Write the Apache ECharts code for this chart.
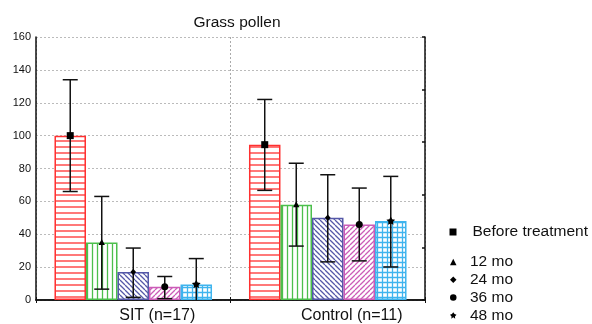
<!DOCTYPE html>
<html><head><meta charset="utf-8">
<script src="https://cdn.jsdelivr.net/npm/echarts@6/dist/echarts.min.js"></script>
<style>html,body{margin:0;padding:0;background:#fff}#c{width:592px;height:324px}</style>
</head><body><div id="c"></div>
<script>
const categories = ['SIT (n=17)', 'Control (n=11)'];
const seriesNames = ['Before treatment', '12 mo', '24 mo', '36 mo', '48 mo'];
// means per series: [SIT, Control]
const meanBefore = [100, 94.5];
const mean12 = [35, 58];
const mean24 = [17, 50];
const mean36 = [8, 46];
const mean48 = [9.5, 48];
// error bar lows/highs
const lowBefore = [66, 66.7], highBefore = [134, 122];
const low12 = [6.6, 32.8], high12 = [63, 83.2];
const low24 = [1.6, 23.2], high24 = [31.6, 76.2];
const low36 = [0.8, 23.8], high36 = [14.3, 68.1];
const low48 = [-6, 20.1], high48 = [25.2, 75.2];
const yTicks = {min: 0, max: 160, interval: 20};

const means = [meanBefore, mean12, mean24, mean36, mean48];
const lows = [lowBefore, low12, low24, low36, low48];
const highs = [highBefore, high12, high24, high36, high48];

const colors = ['#ff3030', '#4cbf4c', '#5558a8', '#cc5cb8', '#3fb4ee'];
const patterns = ['h', 'v', 'bd', 'fd', 'grid'];
const sizes = [6, 5, 5, 5, 5];

function makePattern(type, color, s) {
  const c = document.createElement('canvas');
  c.width = s; c.height = s;
  const g = c.getContext('2d');
  g.fillStyle = '#fff'; g.fillRect(0, 0, s, s);
  g.strokeStyle = color; g.lineWidth = 1.3;
  g.beginPath();
  if (type === 'h' || type === 'grid') { g.moveTo(0, s / 2); g.lineTo(s, s / 2); }
  if (type === 'v' || type === 'grid') { g.moveTo(s / 2, 0); g.lineTo(s / 2, s); }
  if (type === 'bd') { for (const k of [-s, 0, s]) { g.moveTo(k, 0); g.lineTo(k + s, s); } }
  if (type === 'fd') { for (const k of [-s, 0, s]) { g.moveTo(k, s); g.lineTo(k + s, 0); } }
  g.stroke();
  return c;
}

const catGap = 0.19;
const starPath = 'path://M0,-5 L2,-2 L5,-1 L2.6,1.6 L3,5 L0,3 L-3,5 L-2.6,1.6 L-5,-1 L-2,-2 Z';

function markerShape(k, x, y) {
  const st = {fill: '#000'};
  if (k === 0) return {type: 'rect', shape: {x: x - 3.5, y: y - 3.5, width: 7, height: 7}, style: st};
  if (k === 1) return {type: 'polygon', shape: {points: [[x, y - 3.5], [x + 3.2, y + 2.5], [x - 3.2, y + 2.5]]}, style: st};
  if (k === 2) return {type: 'polygon', shape: {points: [[x, y - 3.2], [x + 2.8, y], [x, y + 3.2], [x - 2.8, y]]}, style: st};
  if (k === 3) return {type: 'circle', shape: {cx: x, cy: y, r: 3.5}, style: st};
  const pts = [];
  for (let i = 0; i < 10; i++) {
    const a = -Math.PI / 2 + i * Math.PI / 5;
    const r = i % 2 === 0 ? 4.6 : 2.4;
    pts.push([x + r * Math.cos(a), y + r * Math.sin(a)]);
  }
  return {type: 'polygon', shape: {points: pts}, style: st};
}

const series = [];
seriesNames.forEach((name, k) => {
  series.push({
    type: 'bar', name: name + ' bar', barGap: '0%', barCategoryGap: (catGap * 100) + '%',
    data: means[k],
    itemStyle: {color: {image: makePattern(patterns[k], colors[k], sizes[k]), repeat: 'repeat'},
      borderColor: colors[k], borderWidth: 1.5},
    emphasis: {disabled: true}, silent: true, z: 2
  });
});
seriesNames.forEach((name, k) => {
  series.push({
    type: 'custom', name: name, clip: true, z: 5, silent: true,
    itemStyle: {color: '#000'},
    data: categories.map((c, i) => [i, means[k][i], lows[k][i], highs[k][i]]),
    renderItem: function (params, api) {
      const cat = api.value(0);
      const band = api.size([1, 0])[0];
      const bw = band * (1 - catGap) / 5;
      const pm = api.coord([cat, api.value(1)]);
      const x = pm[0] + (k - 2) * bw;
      const yl = api.coord([cat, api.value(2)])[1];
      const yh = api.coord([cat, api.value(3)])[1];
      const cw = 7.5;
      const ls = {stroke: '#111', lineWidth: 1.5};
      return {type: 'group', children: [
        {type: 'line', shape: {x1: x, y1: yl, x2: x, y2: yh}, style: ls},
        {type: 'line', shape: {x1: x - cw, y1: yh, x2: x + cw, y2: yh}, style: ls},
        {type: 'line', shape: {x1: x - cw, y1: yl, x2: x + cw, y2: yl}, style: ls},
        markerShape(k, x, pm[1])
      ]};
    }
  });
});

const chart = echarts.init(document.getElementById('c'), null, {renderer: 'canvas'});
const font = 'Liberation Sans, Arial, sans-serif';
chart.setOption({
  animation: false,
  color: ['#000'],
  textStyle: {fontFamily: font},
  title: {text: 'Grass pollen', left: 232, textAlign: 'center', top: 10,
    textStyle: {fontSize: 15.5, fontWeight: 'normal', color: '#111', fontFamily: font}},
  grid: {left: 36, right: 167, top: 37, bottom: 23},
  legend: [
    {data: [{name: 'Before treatment', icon: 'rect'}], left: 449.5, top: 224, padding: 0,
      itemWidth: 7, itemHeight: 7, selectedMode: false,
      itemStyle: {color: '#000'},
      textStyle: {fontSize: 15.5, color: '#111', padding: [0, 0, 0, 11], lineHeight: 15}},
    {data: [{name: '12 mo', icon: 'triangle'}, {name: '24 mo', icon: 'diamond'},
            {name: '36 mo', icon: 'circle'}, {name: '48 mo', icon: starPath}],
      orient: 'vertical', left: 450, top: 254, padding: 0, itemGap: 1.8,
      itemWidth: 6.5, itemHeight: 6.5, selectedMode: false,
      itemStyle: {color: '#000'},
      textStyle: {fontSize: 15.5, color: '#111', padding: [0, 0, 0, 8.5], lineHeight: 15}}
  ],
  xAxis: [
    {type: 'category', data: categories, position: 'bottom',
      axisLine: {lineStyle: {color: '#111', width: 1.5}},
      axisTick: {show: true, inside: true, length: 3, lineStyle: {color: '#111'}},
      axisLabel: {fontSize: 16, color: '#111', margin: 8, padding: [0, 0, 0, 48]},
      splitLine: {show: true, lineStyle: {color: '#aaa', type: [2, 2], width: 1}}},
    {type: 'category', data: categories, position: 'top',
      axisLine: {lineStyle: {color: '#111', width: 1.5}},
      axisTick: {show: true, inside: true, length: 3, lineStyle: {color: '#111'}},
      axisLabel: {show: false}, splitLine: {show: false}}
  ],
  yAxis: [
    {type: 'value', min: yTicks.min, max: yTicks.max, interval: yTicks.interval,
      axisLine: {show: true, lineStyle: {color: '#111', width: 1.5}},
      axisTick: {show: false},
      axisLabel: {fontSize: 11, color: '#111', margin: 5},
      splitLine: {show: true, lineStyle: {color: '#bbb', type: [2, 2], width: 1}}},
    {type: 'value', min: 0, max: 160, interval: 32, position: 'right',
      axisLine: {show: true, lineStyle: {color: '#111', width: 1.5}},
      axisTick: {show: true, inside: true, length: 3, lineStyle: {color: '#111', width: 1.5}},
      axisLabel: {show: false}, splitLine: {show: false}}
  ],
  series: series
});
</script></body></html>
